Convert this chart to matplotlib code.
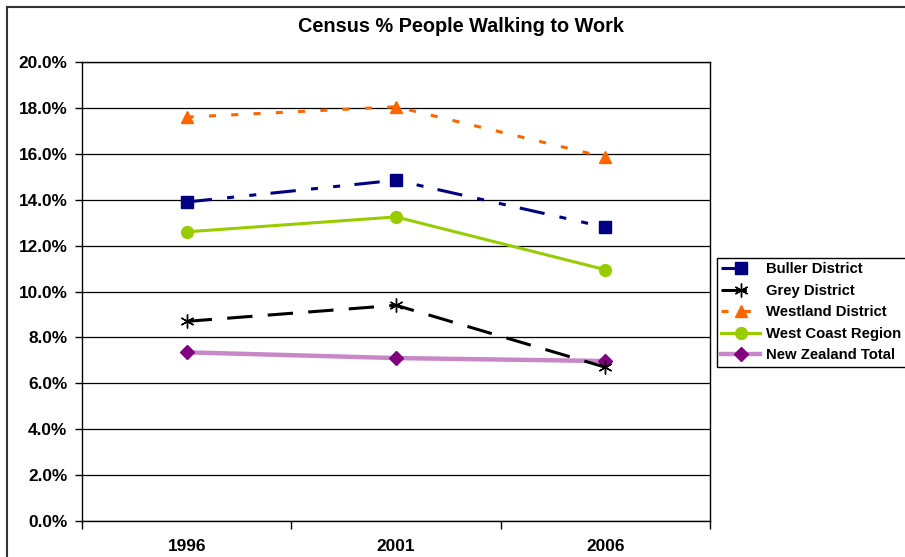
import matplotlib
matplotlib.use('Agg')
import matplotlib.pyplot as plt
from matplotlib.lines import Line2D
from matplotlib.ticker import FuncFormatter

plt.rcParams['font.family'] = ['Liberation Sans', 'DejaVu Sans']

years = ['1996', '2001', '2006']
buller = [13.9, 14.85, 12.8]
grey = [8.7, 9.4, 6.7]
westland = [17.6, 18.05, 15.85]
west_coast = [12.6, 13.25, 10.95]
nz_total = [7.35, 7.1, 6.97]

fig = plt.figure(figsize=(9.05, 5.57), dpi=100)
ax = fig.add_axes([82/905, 1-521/557, 628/905, 459/557])

x = [1, 2, 3]
lw = 2.2
ax.plot(x, buller, color='#000080', lw=lw, marker='s', ms=8.5,
        dashes=(8.3, 5, 2.3, 5, 2.3, 4.7), label='Buller District', zorder=4)
ax.plot(x, grey, color='black', lw=lw, marker=(6, 2, 0), ms=10, mew=1,
        dashes=(8.3, 5), label='Grey District', zorder=4)
ax.plot(x, westland, color='#FF6600', lw=lw, marker='^', ms=9,
        dashes=(2.3, 5), label='Westland District', zorder=4)
ax.plot(x, west_coast, color='#99CC00', lw=lw, marker='o', ms=8.5,
        label='West Coast Region', zorder=4)
ax.plot(x, nz_total, color='#C888C8', lw=3.2, marker='D', ms=7,
        mfc='#800080', mec='#800080', label='New Zealand Total', zorder=3)

ax.set_xlim(0.5, 3.5)
ax.set_ylim(0, 20)
ax.set_yticks(range(0, 21, 2))
ax.yaxis.set_major_formatter(FuncFormatter(lambda v, p: '%.1f%%' % v))
ax.set_xticks([0.5, 1.5, 2.5, 3.5])
ax.set_xticklabels([])
ax.set_xticks(x, minor=True)
ax.set_xticklabels(years, minor=True)
ax.tick_params(axis='x', which='minor', length=0, pad=13)
ax.tick_params(axis='x', which='major', length=6, width=1, direction='out')
ax.tick_params(axis='y', length=5, width=1, direction='out', pad=5.5)
for lab in ax.get_yticklabels() + ax.get_xticklabels(minor=True):
    lab.set_fontsize(12.4)
    lab.set_fontweight('bold')

ax.grid(axis='y', color='black', lw=0.9)
ax.set_axisbelow(True)
for s in ax.spines.values():
    s.set_color('black')
    s.set_linewidth(1)

fig.text(461/905, 1-27/557, 'Census % People Walking to Work', ha='center', va='center',
         fontsize=14.3, fontweight='bold')

leg = ax.legend(loc='upper left', bbox_to_anchor=(717/905, 1-258/557),
                bbox_transform=fig.transFigure, borderaxespad=0, numpoints=1,
                prop={'size': 10.7, 'weight': 'bold'}, handlelength=2.6,
                handletextpad=0.4, labelspacing=0.5, borderpad=0.3,
                fancybox=False, framealpha=1, edgecolor='black')
leg.get_frame().set_linewidth(1)

# outer chart border
fig.add_artist(Line2D([7/905, 7/905], [-0.1, 1-7/557], transform=fig.transFigure,
                      color='#333333', lw=1.5))
fig.add_artist(Line2D([7/905, 1.1], [1-7/557, 1-7/557], transform=fig.transFigure,
                      color='#333333', lw=1.5))

fig.savefig('out.png', dpi=100)
